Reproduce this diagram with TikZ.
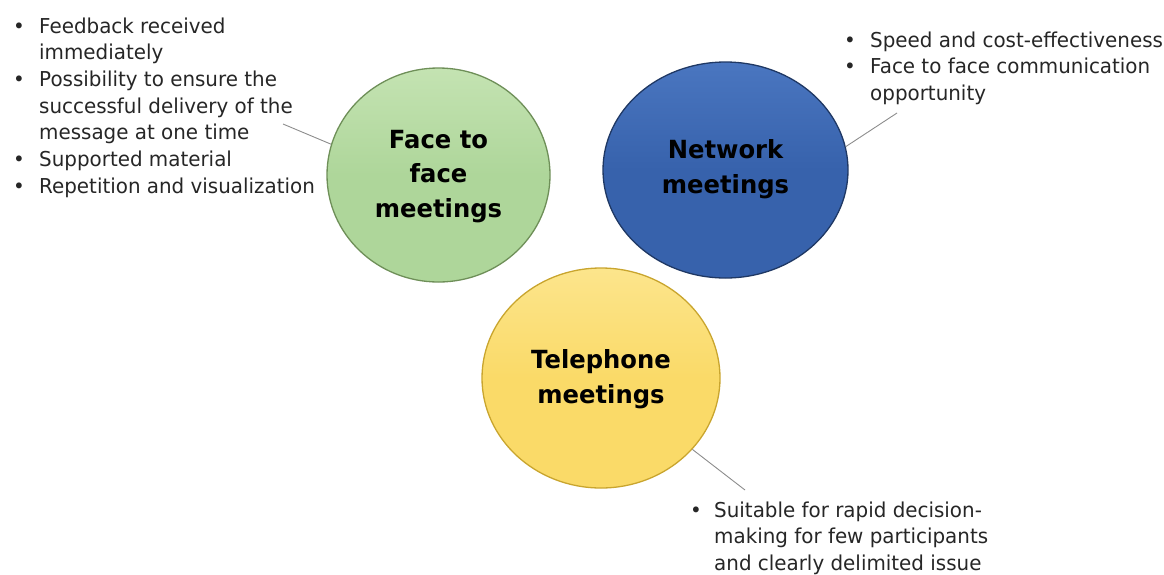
\documentclass[tikz,border=0pt]{standalone}
\usepackage{fontspec}
\setmainfont{DejaVu Sans}[FakeStretch=0.97]
\usetikzlibrary{shapes.geometric}
\definecolor{gfill}{HTML}{AED69A}
\definecolor{gtop}{HTML}{C4E3B2}
\definecolor{gline}{HTML}{6E8F58}
\definecolor{bfill}{HTML}{3762AC}
\definecolor{btop}{HTML}{4A76C0}
\definecolor{bline}{HTML}{1F3864}
\definecolor{yfill}{HTML}{FADA68}
\definecolor{ytop}{HTML}{FCE58C}
\definecolor{yline}{HTML}{C9A52E}
\definecolor{txt}{HTML}{262626}
\definecolor{conn}{HTML}{8C8C8C}
\tikzset{
  bubble/.style={ellipse, inner sep=0pt, line width=1.3pt},
  title/.style={font=\bfseries\fontsize{25}{34.5}\selectfont, align=center, text=black, inner sep=0pt},
  list/.style={font=\fontsize{20.5}{26.7}\selectfont, text=txt, inner sep=0pt, anchor=base west},
  connector/.style={draw=conn, line width=0.9pt},
}
\begin{document}
\begin{tikzpicture}[x=1pt,y=-1pt]
\useasboundingbox (0,0) rectangle (1164,574);
% ellipses
\node[bubble, draw=gline, top color=gtop, bottom color=gfill, middle color=gfill,
      minimum width=223pt, minimum height=214pt] (g) at (438.5,175) {};
\node[bubble, draw=bline, top color=btop, bottom color=bfill, middle color=bfill,
      minimum width=245pt, minimum height=216pt] (b) at (725.5,170) {};
\node[bubble, draw=yline, top color=ytop, bottom color=yfill, middle color=yfill,
      minimum width=238pt, minimum height=220pt] (y) at (601,378) {};
% titles (base = baseline of last line)
\node[title, anchor=base] (gt) at (438.5,217) {Face to\\face\\meetings};
\node[title, anchor=base] (bt) at (725.5,193) {Network\\meetings};
\node[title, anchor=base] (yt) at (601,403) {Telephone\\meetings};
% lists
\node[list] (gl) at (13,33) {\begin{tabular}[t]{@{}p{26pt}@{}l@{}}
\textbullet & Feedback received\\
 & immediately\\
\textbullet & Possibility to ensure the\\
 & successful delivery of the\\
 & message at one time\\
\textbullet & Supported material\\
\textbullet & Repetition and visualization
\end{tabular}};
\node[list] (bl) at (844,47) {\begin{tabular}[t]{@{}p{26pt}@{}l@{}}
\textbullet & Speed and cost-effectiveness\\
\textbullet & Face to face communication\\
 & opportunity
\end{tabular}};
\node[list] (yl) at (690,517) {\begin{tabular}[t]{@{}p{24pt}@{}l@{}}
\textbullet & Suitable for rapid decision-\\
 & making for few participants\\
 & and clearly delimited issue
\end{tabular}};
% connectors
\coordinate (gc) at (283,124);
\coordinate (bc) at (897,113);
\coordinate (yc) at (745,490);
\draw[connector] (gc) -- (g.164);
\draw[connector] (bc) -- (b.11);
\draw[connector] (yc) -- (y.-38);
\end{tikzpicture}
\end{document}
